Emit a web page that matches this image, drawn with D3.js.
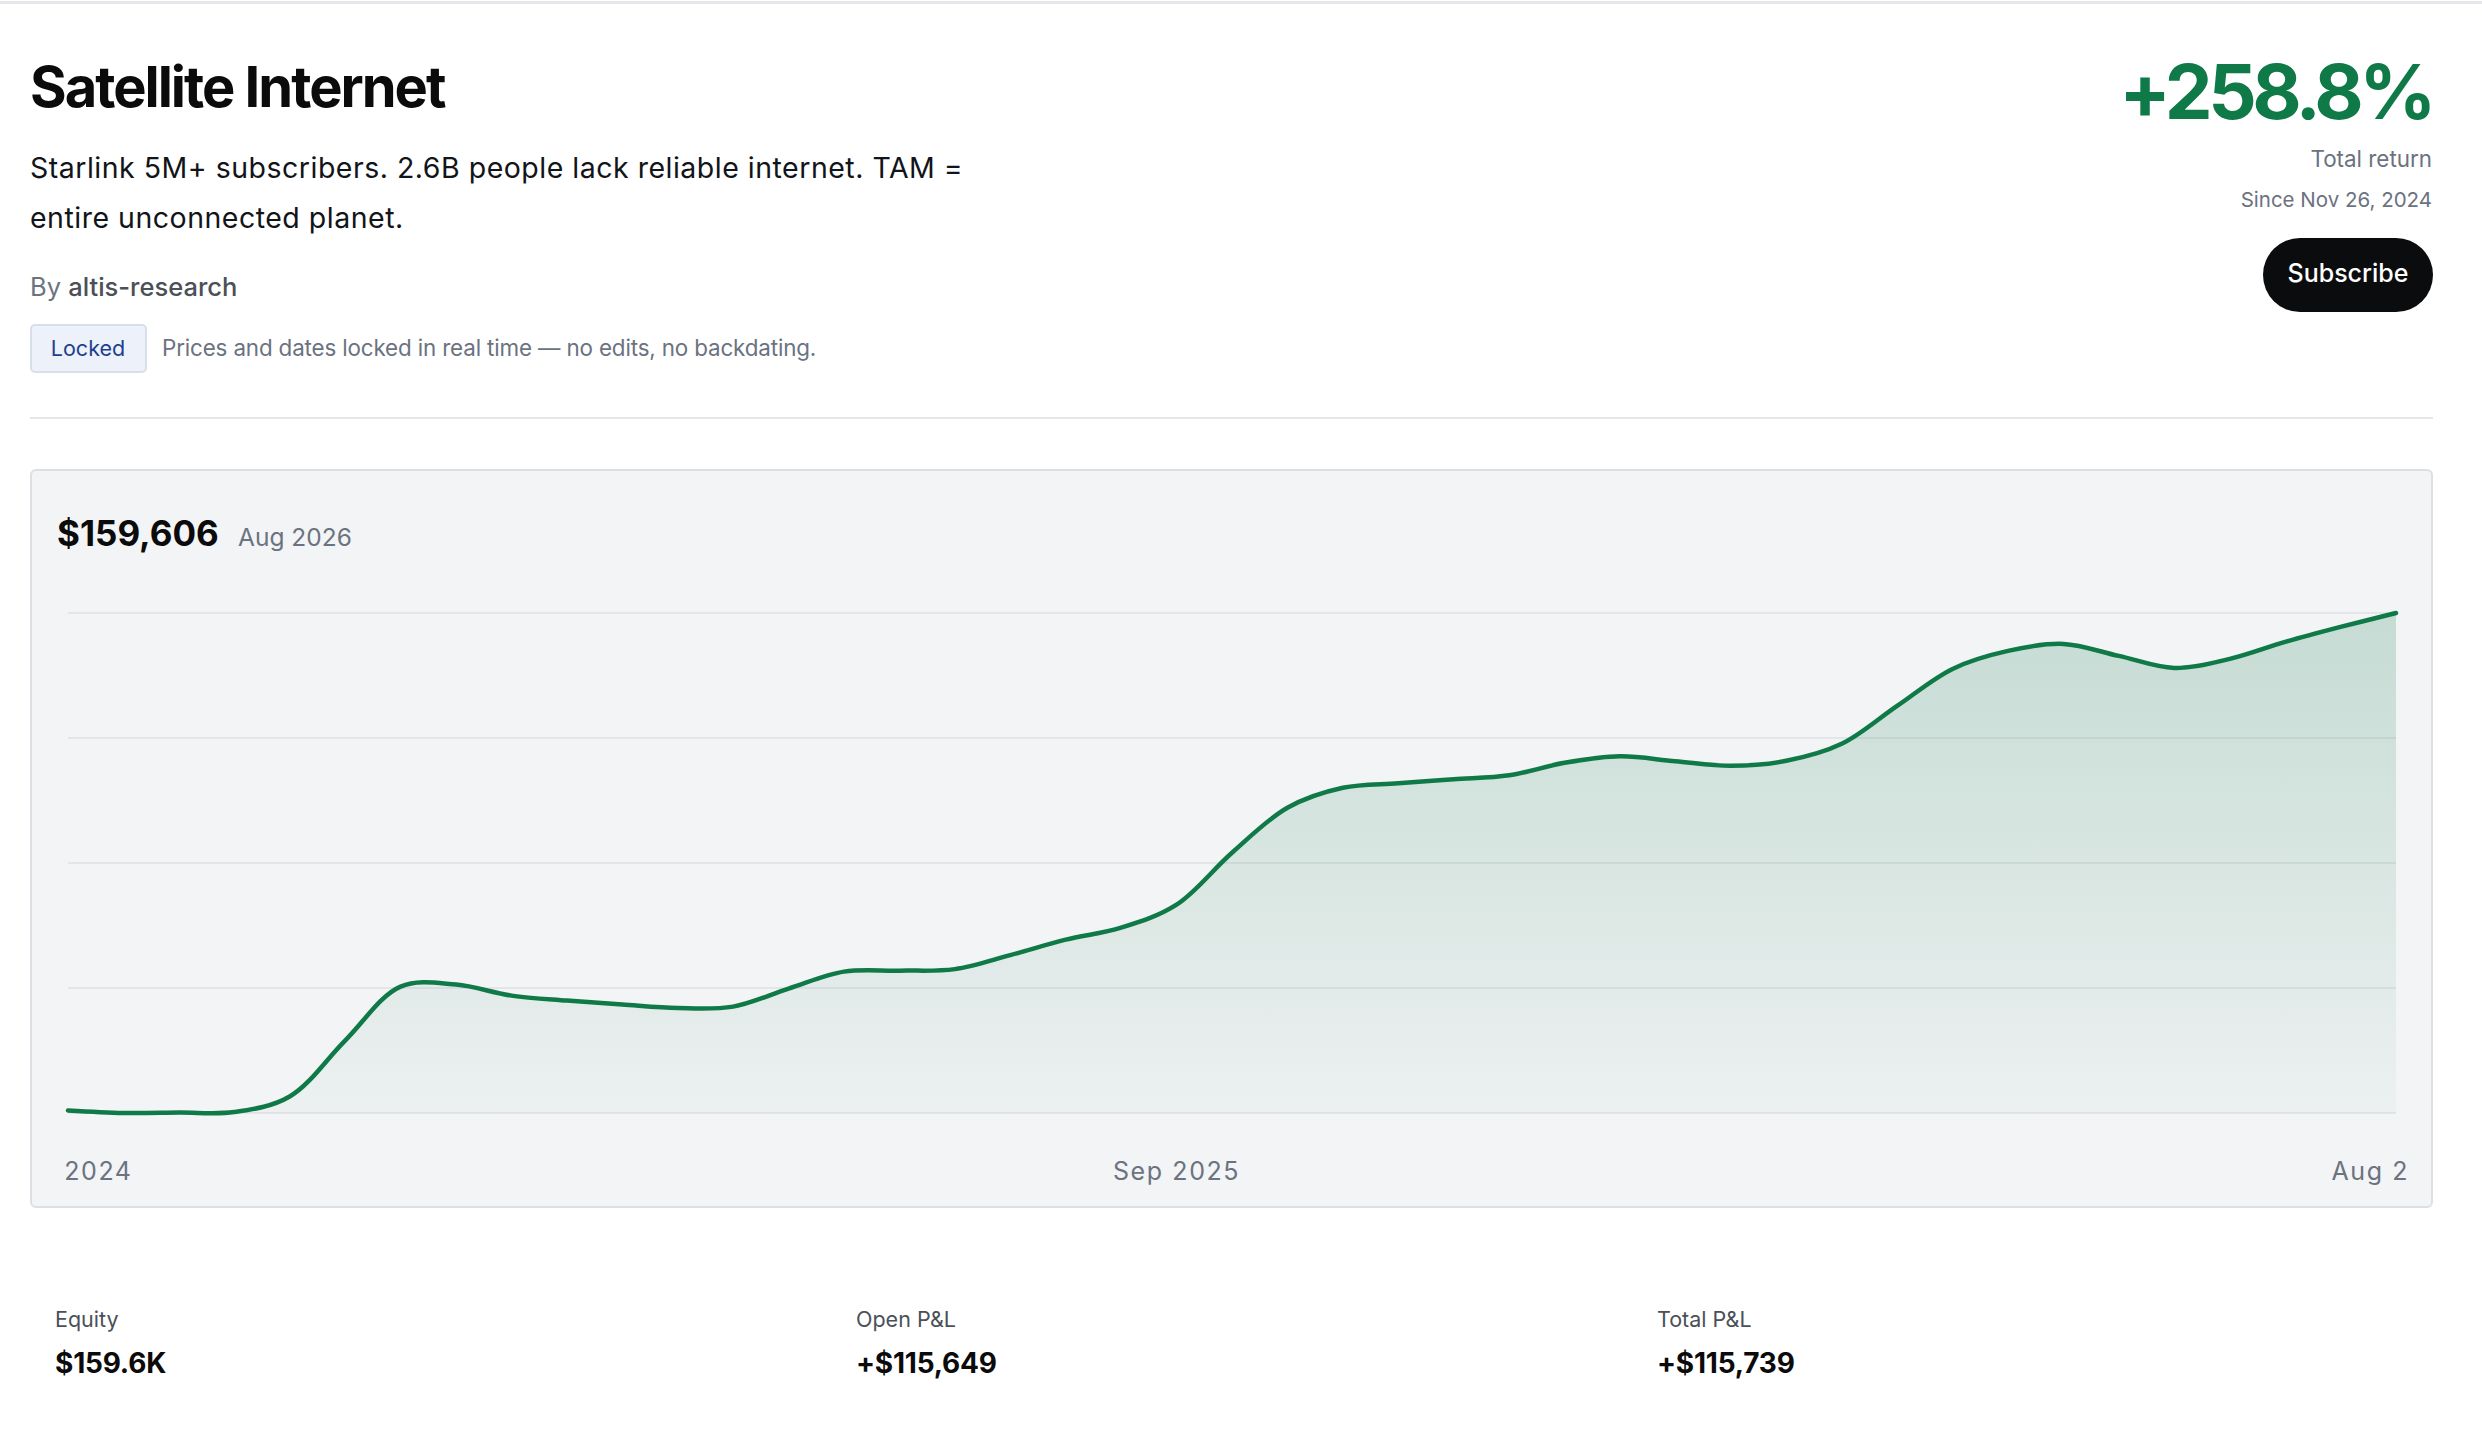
<!DOCTYPE html>
<html>
<head>
<meta charset="utf-8">
<script src="https://cdn.jsdelivr.net/npm/d3@7"></script>
<style>
  html, body { margin: 0; padding: 0; background: #fff; }
  svg { display: block; font-family: Inter, "Noto Sans", sans-serif; }
</style>
</head>
<body>
<div id="page"></div>
<script>
// equity curve, semi-monthly points Nov 2024 -> Aug 2026
const values = [
  44578, 44000, 44100, 44231, 47812, 60748, 73222, 73684, 71143, 69988,
  69064, 68255, 68602, 72760, 76687, 76918, 77264, 80498, 84079, 86851,
  92164, 104176, 114571, 119191, 120230, 121154, 122078, 124966, 126467, 125312,
  124273, 125428, 129355, 138133, 146680, 150838, 152455, 149683, 146911, 148990,
  152917, 156382, 159606
];
const tickIndex = [0, 20, 42];
const tickLabels = ["Nov 2024", "Sep 2025", "Aug 2026"];
const descLines = [
  "Starlink 5M+ subscribers. 2.6B people lack reliable internet. TAM =",
  "entire unconnected planet."
];
const statLabels = ["Equity", "Open P&L", "Total P&L"];
const statValues = ["$159.6K", "+$115,649", "+$115,739"];

const W = 2482, H = 1446;
const green = "#0f7a47";
const grey = "#6b7280";

const svg = d3.select("#page").append("svg")
  .attr("width", W).attr("height", H);

svg.append("rect").attr("width", W).attr("height", H).attr("fill", "#fff");
svg.append("rect").attr("x", 0).attr("y", 1).attr("width", W).attr("height", 3).attr("fill", "#e6e7ea");

// header, left side
svg.append("text").attr("x", 30).attr("y", 107)
  .attr("font-size", 56).attr("font-weight", 700).attr("letter-spacing", -2)
  .attr("fill", "#0b0b0c").text("Satellite Internet");

svg.selectAll(".desc").data(descLines).join("text")
  .attr("class", "desc")
  .attr("x", 30).attr("y", (d, i) => 178 + i * 50)
  .attr("font-size", 28.5).attr("fill", "#111418").attr("letter-spacing", 0.5)
  .text(d => d);

const by = svg.append("text").attr("x", 30).attr("y", 296)
  .attr("font-size", 25.5).attr("fill", grey);
by.append("tspan").text("By ");
by.append("tspan").attr("fill", "#4b5058").attr("font-weight", 500).text("altis-research");

svg.append("rect").attr("x", 31).attr("y", 325).attr("width", 115).attr("height", 47)
  .attr("rx", 4).attr("fill", "#edf1fa").attr("stroke", "#d9dfea").attr("stroke-width", 2);
svg.append("text").attr("x", 88).attr("y", 356).attr("text-anchor", "middle")
  .attr("font-size", 21.5).attr("fill", "#1d3f8f").text("Locked");
svg.append("text").attr("x", 162).attr("y", 356)
  .attr("font-size", 22.4).attr("letter-spacing", -0.15).attr("fill", grey)
  .text("Prices and dates locked in real time \u2014 no edits, no backdating.");

// header, right side
svg.append("text").attr("x", 2432).attr("y", 119).attr("text-anchor", "end")
  .attr("font-size", 76).attr("font-weight", 700).attr("letter-spacing", -4.5)
  .attr("fill", green).text("+258.8%");
svg.append("text").attr("x", 2432).attr("y", 167).attr("text-anchor", "end")
  .attr("font-size", 22.4).attr("fill", grey).text("Total return");
svg.append("text").attr("x", 2432).attr("y", 207).attr("text-anchor", "end")
  .attr("font-size", 20.5).attr("fill", grey).text("Since Nov 26, 2024");
svg.append("rect").attr("x", 2263).attr("y", 238).attr("width", 170).attr("height", 74)
  .attr("rx", 37).attr("fill", "#0b0c0e");
svg.append("text").attr("x", 2348).attr("y", 282).attr("text-anchor", "middle")
  .attr("font-size", 25).attr("font-weight", 500).attr("fill", "#fff").text("Subscribe");

svg.append("rect").attr("x", 30).attr("y", 417).attr("width", 2403).attr("height", 2).attr("fill", "#e5e7eb");

// chart card
svg.append("rect").attr("x", 31).attr("y", 470).attr("width", 2401).attr("height", 737)
  .attr("rx", 5).attr("fill", "#f3f4f6").attr("stroke", "#dcdfe4").attr("stroke-width", 2);

svg.append("text").attr("x", 57).attr("y", 546)
  .attr("font-size", 35).attr("font-weight", 700).attr("letter-spacing", 0)
  .attr("fill", "#0b0b0c").text("$" + d3.format(",")(values[values.length - 1]));
svg.append("text").attr("x", 238).attr("y", 546)
  .attr("font-size", 24.5).attr("fill", grey).text(tickLabels[tickLabels.length - 1]);

const x = d3.scaleLinear().domain([0, values.length - 1]).range([68, 2396]);
const y = d3.scaleLinear().domain(d3.extent(values)).range([1113, 613]);

const defs = svg.append("defs");
defs.append("clipPath").attr("id", "plotClip")
  .append("rect").attr("x", 60).attr("y", 560).attr("width", 2350).attr("height", 640);
const grad = defs.append("linearGradient").attr("id", "fillGrad")
  .attr("gradientUnits", "userSpaceOnUse")
  .attr("x1", 0).attr("x2", 0).attr("y1", y.range()[1]).attr("y2", y.range()[0]);
grad.append("stop").attr("offset", 0).attr("stop-color", green).attr("stop-opacity", 0.2);
grad.append("stop").attr("offset", 1).attr("stop-color", green).attr("stop-opacity", 0.03);

const plot = svg.append("g").attr("clip-path", "url(#plotClip)");

const [lo, hi] = y.domain();
const gridVals = d3.range(5).map(i => lo + (hi - lo) * i / 4);
plot.selectAll(".grid").data(gridVals).join("line")
  .attr("class", "grid")
  .attr("x1", x(0)).attr("x2", x(values.length - 1))
  .attr("y1", d => y(d)).attr("y2", d => y(d))
  .attr("stroke", "#e3e5e9").attr("stroke-width", 2);

const curve = d3.curveCatmullRom.alpha(0.5);

plot.append("path").datum(values)
  .attr("fill", "url(#fillGrad)")
  .attr("d", d3.area().x((d, i) => x(i)).y0(y(lo)).y1(d => y(d)).curve(curve));

plot.append("path").datum(values)
  .attr("fill", "none").attr("stroke", green).attr("stroke-width", 4.5)
  .attr("stroke-linejoin", "round").attr("stroke-linecap", "round")
  .attr("d", d3.line().x((d, i) => x(i)).y(d => y(d)).curve(curve));

plot.selectAll(".tick").data(tickIndex).join("text")
  .attr("class", "tick")
  .attr("x", d => x(d)).attr("y", 1180).attr("text-anchor", "middle")
  .attr("font-size", 25).attr("letter-spacing", 1.6).attr("fill", grey)
  .text((d, i) => tickLabels[i]);

// stats row
const colX = d3.scalePoint().domain(statLabels).range([55, 1657]);
svg.selectAll(".slabel").data(statLabels).join("text")
  .attr("class", "slabel")
  .attr("x", d => colX(d)).attr("y", 1327)
  .attr("font-size", 21.5).attr("fill", "#4b5058").text(d => d);
svg.selectAll(".sval").data(statValues).join("text")
  .attr("class", "sval")
  .attr("x", (d, i) => colX(statLabels[i])).attr("y", 1373)
  .attr("font-size", 28).attr("font-weight", 700).attr("letter-spacing", -0.2)
  .attr("fill", "#0b0b0c").text(d => d);
</script>
</body>
</html>
